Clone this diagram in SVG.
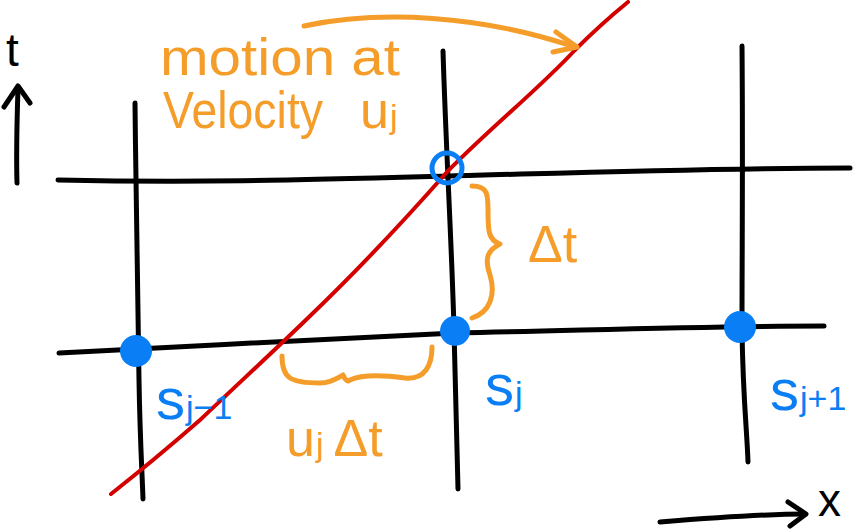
<svg xmlns="http://www.w3.org/2000/svg" width="854" height="530" viewBox="0 0 854 530">
<defs>
<style>
.grid{fill:none;stroke:#000;stroke-width:5;stroke-linecap:round;stroke-linejoin:round}
.org{fill:none;stroke:#f59d2a;stroke-width:5;stroke-linecap:round;stroke-linejoin:round}
.red{fill:none;stroke:#d40000;stroke-width:4;stroke-linecap:round}
.olab{fill:#f59d2a;font-family:"Liberation Sans",Arial,sans-serif;font-size:52px}
.blab{fill:#0a7ef5;font-family:"Liberation Sans",Arial,sans-serif;font-size:58px}
.sub{font-size:34px}
.axlab{fill:#000;font-family:"Liberation Sans",Arial,sans-serif;font-size:46px}
</style>
</defs>
<rect width="854" height="530" fill="#fff"/>
<g id="grid">
<path class="grid" d="M135,103 C136,200 138,300 139,380 C140,440 142,470 143,499"/>
<path class="grid" d="M443,51 C446,150 452,250 454,330 C456,400 457,450 458,489"/>
<path class="grid" d="M742,46 C743,150 742,250 742,330 C743,400 747,430 748,462"/>
<path class="grid" d="M58,180 C200,183 300,180 450,176 C600,172 720,168 850,168"/>
<path class="grid" d="M59,353 C200,346 300,340 455,333 C600,330 700,326 824,326"/>
</g>
<g id="connectors">
<path class="red" d="M111,494 C135,475 160,455 200,420 C240,382 275,350 310,316 C360,268 410,214 447,172 C490,128 540,88 575,50 C598,27 612,15 628,2"/>
<path class="org" d="M304,26 C380,10 480,15 575,47"/>
<path class="org" d="M556,32 L577,47 L553,52"/>
<path class="grid" d="M17,183 C16,150 17,120 18,88"/>
<path class="grid" d="M4,107 L18,86 L30,103"/>
<path class="grid" d="M660,522 C710,518 760,514 805,514"/>
<path class="grid" d="M788,502 L806,514 L790,526"/>
</g>
<g id="braces">
<path class="org" d="M472,186 C488,186 488,195 488,210 C488,230 488,240 500,244 C488,250 484,258 490,275 C496,295 490,312 472,318"/>
<path class="org" d="M282,356 C282,378 290,383 320,383 C330,383 338,378 343,375 C345,380 348,382 350,380 C365,373 390,376 405,378 C425,380 432,365 432,347"/>
</g>
<g id="node-sj">
<circle cx="455" cy="331" r="15" fill="#0a7ef5"/>
<text class="blab" x="485" y="405">s<tspan class="sub" dx="1">j</tspan></text>
</g>
<g id="node-sjm1">
<circle cx="136" cy="351" r="16" fill="#0a7ef5"/>
<text class="blab" x="156" y="419">s<tspan class="sub" dx="1">j−1</tspan></text>
</g>
<g id="node-sjp1">
<circle cx="740" cy="327" r="16" fill="#0a7ef5"/>
<text class="blab" x="770" y="410">s<tspan class="sub" dx="1">j+1</tspan></text>
</g>
<g id="node-open">
<circle cx="447" cy="168" r="15" fill="none" stroke="#0a7ef5" stroke-width="5"/>
</g>
<g id="labels">
<text class="olab" x="160" y="75" textLength="240" lengthAdjust="spacingAndGlyphs">motion at</text>
<text class="olab" x="163" y="128" textLength="160" lengthAdjust="spacingAndGlyphs">Velocity</text>
<text class="olab" x="360" y="128">u<tspan class="sub" dx="1">j</tspan></text>
<text class="olab" x="528" y="262">Δt</text>
<text class="olab" x="286" y="456">u<tspan class="sub" dx="1">j</tspan><tspan dx="10">Δt</tspan></text>
<text class="axlab" x="6" y="66">t</text>
<text class="axlab" x="818" y="516" font-size="42">x</text>
</g>
</svg>
